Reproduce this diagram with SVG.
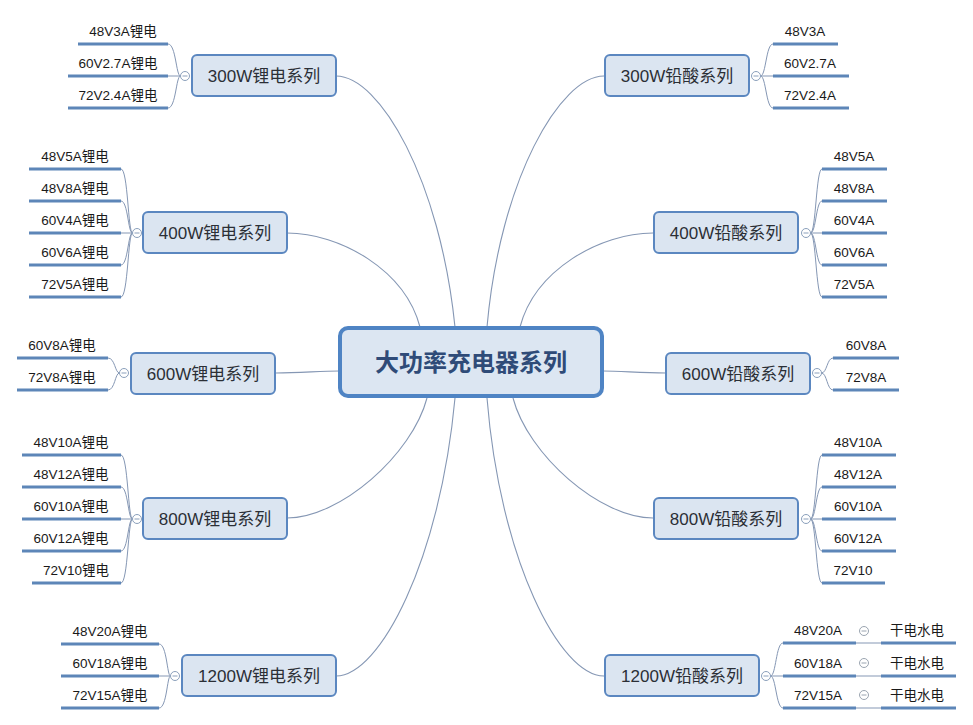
<svg xmlns="http://www.w3.org/2000/svg" width="973" height="725" viewBox="0 0 973 725">
<style>
.conn{fill:none;stroke:#8597b4;stroke-width:1.1}
.br{fill:none;stroke:#8597b4;stroke-width:1}
.box{fill:#dbe5f1;stroke:#5b87c0;stroke-width:2}
.root{fill:#dce6f2;stroke:#4f84c4;stroke-width:4}
.nt{font-family:"Liberation Sans","Noto Sans CJK SC",sans-serif;font-size:17px;fill:#2b2f36;text-anchor:middle}
.rt{font-family:"Liberation Sans","Noto Sans CJK SC",sans-serif;font-size:24px;font-weight:bold;fill:#2f4b78;text-anchor:middle}
.lt{font-family:"Liberation Sans","Noto Sans CJK SC",sans-serif;font-size:13.5px;fill:#1a1a1a;text-anchor:middle}
.ul{stroke:#5d86b8;stroke-width:3.2;stroke-linecap:butt}
.cc{fill:#fff;stroke:#8a9fbb;stroke-width:1}
.cm{stroke:#8a9fbb;stroke-width:1}
.gc{fill:#fff;stroke:#9aa4b0;stroke-width:1}
.gm{stroke:#9aa4b0;stroke-width:1}
</style>
<rect width="973" height="725" fill="#fff"/>
<g id="connectors">
<path class="conn" d="M336,76 C380,76 440,180 455,327"/>
<path class="conn" d="M287,233 C340,233 405,270 420,327"/>
<path class="conn" d="M276,373 C300,373 320,371 339,371"/>
<path class="conn" d="M287,518 C340,518 412,455 427,398"/>
<path class="conn" d="M336,676 C380,676 440,560 455,398"/>
<path class="conn" d="M604,76 C560,76 500,180 487,327"/>
<path class="conn" d="M653,233 C600,233 535,270 520,327"/>
<path class="conn" d="M666,373 C640,373 622,371 603,371"/>
<path class="conn" d="M653,518 C600,518 528,455 513,398"/>
<path class="conn" d="M604,676 C560,676 500,560 487,398"/>
<!-- brackets left -->
<path class="br" d="M168,44 C176,44 176,76 180.5,76 M168,76 L180.5,76 M168,108 C176,108 176,76 180.5,76"/>
<path class="br" d="M121,169 C128,169 128,233 132.5,233 M121,201 C128,201 128,233 132.5,233 M121,233 L132.5,233 M121,265 C128,265 128,233 132.5,233 M121,297 C128,297 128,233 132.5,233"/>
<path class="br" d="M108,358 C115,358 115,373 119.5,373 M108,390 C115,390 115,373 119.5,373"/>
<path class="br" d="M121,455 C128,455 128,519 132.5,519 M121,487 C128,487 128,519 132.5,519 M121,519 L132.5,519 M121,551 C128,551 128,519 132.5,519 M121,583 C128,583 128,519 132.5,519"/>
<path class="br" d="M159,644 C167,644 167,676 170.5,676 M159,676 L170.5,676 M159,708 C167,708 167,676 170.5,676"/>
<!-- brackets right -->
<path class="br" d="M760.5,76 C766,76 766,44 773,44 M760.5,76 L773,76 M760.5,76 C766,76 766,108 773,108"/>
<path class="br" d="M810.5,233 C816,233 816,169 822,169 M810.5,233 C816,233 816,201 822,201 M810.5,233 L822,233 M810.5,233 C816,233 816,265 822,265 M810.5,233 C816,233 816,297 822,297"/>
<path class="br" d="M821.5,373 C827,373 827,358 833,358 M821.5,373 C827,373 827,390 833,390"/>
<path class="br" d="M810.5,519 C816,519 816,455 822,455 M810.5,519 C816,519 816,487 822,487 M810.5,519 L822,519 M810.5,519 C816,519 816,551 822,551 M810.5,519 C816,519 816,583 822,583"/>
<path class="br" d="M770.5,676 C776,676 776,643 783,643 M770.5,676 L783,676 M770.5,676 C776,676 776,708 783,708"/>
<path class="br" d="M856,643 L881,643 M856,676 L881,676 M856,708 L881,708"/>
</g>
<g id="root">
<rect class="root" x="340" y="328" width="262" height="68" rx="8"/>
<text class="rt" x="471" y="371">大功率充电器系列</text>
</g>
<!-- left main nodes -->
<g id="n300L">
<rect class="box" x="192" y="55" width="144" height="41" rx="5"/>
<text class="nt" x="264" y="82">300W锂电系列</text>
<circle class="cc" cx="185" cy="76" r="4.5"/><line class="cm" x1="182.5" y1="76" x2="187.5" y2="76"/>
</g>
<g id="n400L">
<rect class="box" x="143" y="212" width="144" height="41" rx="5"/>
<text class="nt" x="215" y="239">400W锂电系列</text>
<circle class="cc" cx="137" cy="233" r="4.5"/><line class="cm" x1="134.5" y1="233" x2="139.5" y2="233"/>
</g>
<g id="n600L">
<rect class="box" x="131" y="353" width="144" height="41" rx="5"/>
<text class="nt" x="203" y="380">600W锂电系列</text>
<circle class="cc" cx="124" cy="373" r="4.5"/><line class="cm" x1="121.5" y1="373" x2="126.5" y2="373"/>
</g>
<g id="n800L">
<rect class="box" x="143" y="498" width="144" height="41" rx="5"/>
<text class="nt" x="215" y="525">800W锂电系列</text>
<circle class="cc" cx="137" cy="519" r="4.5"/><line class="cm" x1="134.5" y1="519" x2="139.5" y2="519"/>
</g>
<g id="n1200L">
<rect class="box" x="182" y="655" width="154" height="41" rx="5"/>
<text class="nt" x="259" y="682">1200W锂电系列</text>
<circle class="cc" cx="175" cy="676" r="4.5"/><line class="cm" x1="172.5" y1="676" x2="177.5" y2="676"/>
</g>
<!-- right main nodes -->
<g id="n300R">
<rect class="box" x="605" y="55" width="144" height="41" rx="5"/>
<text class="nt" x="677" y="82">300W铅酸系列</text>
<circle class="cc" cx="756" cy="76" r="4.5"/><line class="cm" x1="753.5" y1="76" x2="758.5" y2="76"/>
</g>
<g id="n400R">
<rect class="box" x="654" y="212" width="144" height="41" rx="5"/>
<text class="nt" x="726" y="239">400W铅酸系列</text>
<circle class="cc" cx="806" cy="233" r="4.5"/><line class="cm" x1="803.5" y1="233" x2="808.5" y2="233"/>
</g>
<g id="n600R">
<rect class="box" x="666" y="353" width="144" height="41" rx="5"/>
<text class="nt" x="738" y="380">600W铅酸系列</text>
<circle class="cc" cx="817" cy="373" r="4.5"/><line class="cm" x1="814.5" y1="373" x2="819.5" y2="373"/>
</g>
<g id="n800R">
<rect class="box" x="654" y="498" width="144" height="41" rx="5"/>
<text class="nt" x="726" y="525">800W铅酸系列</text>
<circle class="cc" cx="806" cy="519" r="4.5"/><line class="cm" x1="803.5" y1="519" x2="808.5" y2="519"/>
</g>
<g id="n1200R">
<rect class="box" x="605" y="655" width="154" height="41" rx="5"/>
<text class="nt" x="682" y="682">1200W铅酸系列</text>
<circle class="cc" cx="766" cy="676" r="4.5"/><line class="cm" x1="763.5" y1="676" x2="768.5" y2="676"/>
</g>
<!-- left leaves -->
<g id="l300L1"><line class="ul" x1="78" y1="44" x2="168" y2="44"/><text class="lt" x="123" y="36">48V3A锂电</text></g>
<g id="l300L2"><line class="ul" x1="68" y1="76" x2="168" y2="76"/><text class="lt" x="118" y="68">60V2.7A锂电</text></g>
<g id="l300L3"><line class="ul" x1="68" y1="108" x2="168" y2="108"/><text class="lt" x="118" y="100">72V2.4A锂电</text></g>
<g id="l400L1"><line class="ul" x1="29" y1="169" x2="121" y2="169"/><text class="lt" x="75" y="161">48V5A锂电</text></g>
<g id="l400L2"><line class="ul" x1="29" y1="201" x2="121" y2="201"/><text class="lt" x="75" y="193">48V8A锂电</text></g>
<g id="l400L3"><line class="ul" x1="29" y1="233" x2="121" y2="233"/><text class="lt" x="75" y="225">60V4A锂电</text></g>
<g id="l400L4"><line class="ul" x1="29" y1="265" x2="121" y2="265"/><text class="lt" x="75" y="257">60V6A锂电</text></g>
<g id="l400L5"><line class="ul" x1="29" y1="297" x2="121" y2="297"/><text class="lt" x="75" y="289">72V5A锂电</text></g>
<g id="l600L1"><line class="ul" x1="17" y1="358" x2="108" y2="358"/><text class="lt" x="62" y="350">60V8A锂电</text></g>
<g id="l600L2"><line class="ul" x1="17" y1="390" x2="108" y2="390"/><text class="lt" x="62" y="382">72V8A锂电</text></g>
<g id="l800L1"><line class="ul" x1="22" y1="455" x2="121" y2="455"/><text class="lt" x="71" y="447">48V10A锂电</text></g>
<g id="l800L2"><line class="ul" x1="22" y1="487" x2="121" y2="487"/><text class="lt" x="71" y="479">48V12A锂电</text></g>
<g id="l800L3"><line class="ul" x1="22" y1="519" x2="121" y2="519"/><text class="lt" x="71" y="511">60V10A锂电</text></g>
<g id="l800L4"><line class="ul" x1="22" y1="551" x2="121" y2="551"/><text class="lt" x="71" y="543">60V12A锂电</text></g>
<g id="l800L5"><line class="ul" x1="32" y1="583" x2="121" y2="583"/><text class="lt" x="76" y="575">72V10锂电</text></g>
<g id="l1200L1"><line class="ul" x1="61" y1="644" x2="159" y2="644"/><text class="lt" x="110" y="636">48V20A锂电</text></g>
<g id="l1200L2"><line class="ul" x1="61" y1="676" x2="159" y2="676"/><text class="lt" x="110" y="668">60V18A锂电</text></g>
<g id="l1200L3"><line class="ul" x1="61" y1="708" x2="159" y2="708"/><text class="lt" x="110" y="700">72V15A锂电</text></g>
<!-- right leaves -->
<g id="l300R1"><line class="ul" x1="773" y1="44" x2="838" y2="44"/><text class="lt" x="805" y="36">48V3A</text></g>
<g id="l300R2"><line class="ul" x1="773" y1="76" x2="849" y2="76"/><text class="lt" x="810" y="68">60V2.7A</text></g>
<g id="l300R3"><line class="ul" x1="773" y1="108" x2="849" y2="108"/><text class="lt" x="810" y="100">72V2.4A</text></g>
<g id="l400R1"><line class="ul" x1="822" y1="169" x2="887" y2="169"/><text class="lt" x="854" y="161">48V5A</text></g>
<g id="l400R2"><line class="ul" x1="822" y1="201" x2="887" y2="201"/><text class="lt" x="854" y="193">48V8A</text></g>
<g id="l400R3"><line class="ul" x1="822" y1="233" x2="887" y2="233"/><text class="lt" x="854" y="225">60V4A</text></g>
<g id="l400R4"><line class="ul" x1="822" y1="265" x2="887" y2="265"/><text class="lt" x="854" y="257">60V6A</text></g>
<g id="l400R5"><line class="ul" x1="822" y1="297" x2="887" y2="297"/><text class="lt" x="854" y="289">72V5A</text></g>
<g id="l600R1"><line class="ul" x1="833" y1="358" x2="899" y2="358"/><text class="lt" x="866" y="350">60V8A</text></g>
<g id="l600R2"><line class="ul" x1="833" y1="390" x2="899" y2="390"/><text class="lt" x="866" y="382">72V8A</text></g>
<g id="l800R1"><line class="ul" x1="822" y1="455" x2="896" y2="455"/><text class="lt" x="858" y="447">48V10A</text></g>
<g id="l800R2"><line class="ul" x1="822" y1="487" x2="896" y2="487"/><text class="lt" x="858" y="479">48V12A</text></g>
<g id="l800R3"><line class="ul" x1="822" y1="519" x2="896" y2="519"/><text class="lt" x="858" y="511">60V10A</text></g>
<g id="l800R4"><line class="ul" x1="822" y1="551" x2="896" y2="551"/><text class="lt" x="858" y="543">60V12A</text></g>
<g id="l800R5"><line class="ul" x1="822" y1="583" x2="885" y2="583"/><text class="lt" x="853" y="575">72V10</text></g>
<g id="l1200R1"><line class="ul" x1="783" y1="643" x2="856" y2="643"/><text class="lt" x="818" y="635">48V20A</text>
<circle class="gc" cx="864" cy="631" r="4.5"/><line class="gm" x1="861.5" y1="631" x2="866.5" y2="631"/></g>
<g id="l1200R2"><line class="ul" x1="783" y1="676" x2="856" y2="676"/><text class="lt" x="818" y="668">60V18A</text>
<circle class="gc" cx="864" cy="663" r="4.5"/><line class="gm" x1="861.5" y1="663" x2="866.5" y2="663"/></g>
<g id="l1200R3"><line class="ul" x1="783" y1="708" x2="856" y2="708"/><text class="lt" x="818" y="700">72V15A</text>
<circle class="gc" cx="864" cy="695" r="4.5"/><line class="gm" x1="861.5" y1="695" x2="866.5" y2="695"/></g>
<g id="l1200R1b"><line class="ul" x1="881" y1="643" x2="956" y2="643"/><text class="lt" x="917" y="635">干电水电</text></g>
<g id="l1200R2b"><line class="ul" x1="881" y1="676" x2="956" y2="676"/><text class="lt" x="917" y="668">干电水电</text></g>
<g id="l1200R3b"><line class="ul" x1="881" y1="708" x2="956" y2="708"/><text class="lt" x="917" y="700">干电水电</text></g>
</svg>
